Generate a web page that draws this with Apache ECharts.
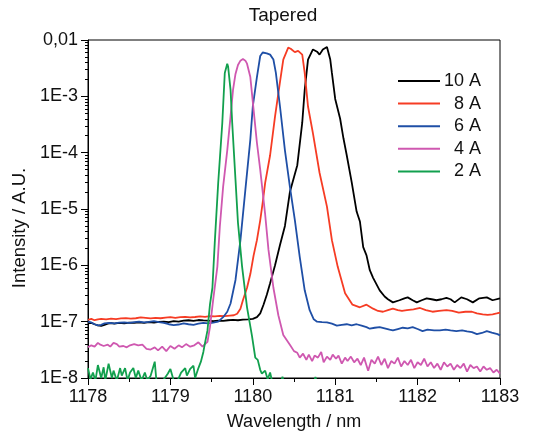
<!DOCTYPE html>
<html><head><meta charset="utf-8">
<script src="https://cdn.jsdelivr.net/npm/echarts@6/dist/echarts.min.js"></script>
<style>html,body{margin:0;padding:0;background:#fff}#c{width:534px;height:438px}</style>
</head><body><div id="c"></div>
<script>
// ---- data (wavelength in nm, intensity in A.U.) ----
const seriesNames = ['10 A', '8 A', '6 A', '4 A', '2 A'];
const xTicks = [1178, 1179, 1180, 1181, 1182, 1183];
const yTickLabels = {'-2': '0,01', '-3': '1E-3', '-4': '1E-4', '-5': '1E-5', '-6': '1E-6', '-7': '1E-7', '-8': '1E-8'};

const wl10 = [1178.00,1178.04,1178.08,1178.12,1178.16,1178.20,1178.24,1178.28,1178.32,1178.38,1178.44,1178.50,1178.56,1178.62,1178.68,1178.74,1178.80,1178.86,1178.92,1178.98,1179.04,1179.10,1179.16,1179.22,1179.28,1179.34,1179.40,1179.46,1179.52,1179.58,1179.64,1179.70,1179.76,1179.82,1179.88,1179.94,1180.00,1180.05,1180.09,1180.13,1180.17,1180.21,1180.27,1180.33,1180.39,1180.45,1180.54,1180.60,1180.63,1180.67,1180.73,1180.78,1180.81,1180.85,1180.90,1180.94,1180.96,1181.00,1181.06,1181.10,1181.14,1181.20,1181.26,1181.30,1181.34,1181.38,1181.42,1181.46,1181.54,1181.60,1181.64,1181.70,1181.78,1181.84,1181.88,1181.94,1181.99,1182.05,1182.11,1182.17,1182.23,1182.29,1182.35,1182.40,1182.45,1182.53,1182.60,1182.67,1182.75,1182.84,1182.91,1183.00];
const int10 = [0.93e-7,0.95e-7,0.9e-7,0.86e-7,0.84e-7,0.88e-7,0.92e-7,0.94e-7,0.92e-7,0.95e-7,0.93e-7,0.96e-7,0.95e-7,0.97e-7,0.95e-7,0.98e-7,0.96e-7,0.99e-7,1.0e-7,0.98e-7,1.02e-7,1.0e-7,1.04e-7,1.06e-7,1.03e-7,1.07e-7,1.05e-7,1.04e-7,1.02e-7,1.04e-7,1.03e-7,1.06e-7,1.08e-7,1.06e-7,1.09e-7,1.1e-7,1.12e-7,1.2e-7,1.4e-7,2e-7,3e-7,4.8e-7,1e-6,2.3e-6,5e-6,2e-5,6e-5,3.4e-4,1.3e-3,4.5e-3,6.8e-3,6.2e-3,5.5e-3,6.8e-3,7.5e-3,4.5e-3,2.6e-3,9e-4,4e-4,1.8e-4,9e-5,3e-5,9e-6,6e-6,2.1e-6,1.5e-6,8.2e-7,6e-7,3.6e-7,2.8e-7,2.5e-7,2.2e-7,2.4e-7,2.6e-7,2.7e-7,2.4e-7,2.2e-7,2.4e-7,2.6e-7,2.5e-7,2.4e-7,2.5e-7,2.65e-7,2.5e-7,2.2e-7,2.7e-7,2.5e-7,2.2e-7,2.6e-7,2.7e-7,2.4e-7,2.6e-7];

const wl8 = [1178.00,1178.04,1178.08,1178.12,1178.16,1178.22,1178.28,1178.34,1178.40,1178.46,1178.52,1178.58,1178.64,1178.70,1178.76,1178.82,1178.88,1178.94,1179.00,1179.06,1179.12,1179.18,1179.24,1179.30,1179.36,1179.42,1179.48,1179.54,1179.60,1179.66,1179.72,1179.77,1179.81,1179.85,1179.88,1179.93,1179.97,1180.01,1180.05,1180.09,1180.12,1180.15,1180.21,1180.27,1180.33,1180.37,1180.43,1180.46,1180.48,1180.51,1180.55,1180.60,1180.63,1180.67,1180.73,1180.81,1180.90,1180.96,1181.03,1181.12,1181.21,1181.30,1181.38,1181.46,1181.52,1181.58,1181.64,1181.70,1181.76,1181.81,1181.87,1181.95,1182.03,1182.10,1182.18,1182.26,1182.35,1182.42,1182.50,1182.58,1182.66,1182.72,1182.79,1182.85,1182.91,1182.96,1183.00];
const int8 = [1.08e-7,1.12e-7,1.06e-7,1.1e-7,1.12e-7,1.1e-7,1.13e-7,1.11e-7,1.14e-7,1.16e-7,1.13e-7,1.15e-7,1.19e-7,1.17e-7,1.14e-7,1.17e-7,1.15e-7,1.18e-7,1.2e-7,1.17e-7,1.2e-7,1.22e-7,1.19e-7,1.21e-7,1.24e-7,1.22e-7,1.25e-7,1.24e-7,1.27e-7,1.25e-7,1.28e-7,1.3e-7,1.38e-7,1.7e-7,2.4e-7,4e-7,7e-7,1.5e-6,2.8e-6,6.3e-6,1.3e-5,2.9e-5,9e-5,4.4e-4,1.8e-3,4.5e-3,7.3e-3,7.0e-3,6.5e-3,6.1e-3,6.4e-3,5.5e-3,2.6e-3,6.6e-4,2.2e-4,4.4e-5,1.1e-5,2.8e-6,9.5e-7,3.2e-7,2e-7,1.8e-7,2e-7,1.7e-7,1.55e-7,1.5e-7,1.6e-7,1.7e-7,1.6e-7,1.55e-7,1.6e-7,1.65e-7,1.75e-7,1.6e-7,1.5e-7,1.55e-7,1.6e-7,1.55e-7,1.45e-7,1.5e-7,1.5e-7,1.4e-7,1.35e-7,1.32e-7,1.35e-7,1.4e-7,1.45e-7];

const wl6 = [1178.00,1178.04,1178.08,1178.12,1178.16,1178.20,1178.26,1178.32,1178.38,1178.44,1178.50,1178.56,1178.62,1178.68,1178.74,1178.80,1178.86,1178.92,1178.98,1179.04,1179.10,1179.16,1179.22,1179.28,1179.34,1179.40,1179.46,1179.52,1179.58,1179.64,1179.69,1179.73,1179.79,1179.85,1179.91,1179.97,1180.00,1180.05,1180.09,1180.12,1180.17,1180.21,1180.25,1180.28,1180.30,1180.33,1180.39,1180.45,1180.51,1180.57,1180.63,1180.69,1180.74,1180.78,1180.84,1180.90,1180.96,1181.02,1181.08,1181.14,1181.20,1181.26,1181.32,1181.38,1181.42,1181.48,1181.54,1181.60,1181.66,1181.70,1181.76,1181.82,1181.88,1181.94,1182.00,1182.06,1182.12,1182.20,1182.27,1182.34,1182.40,1182.47,1182.54,1182.60,1182.66,1182.72,1182.78,1182.84,1182.90,1182.97,1183.00];
const int6 = [1.0e-7,0.97e-7,0.9e-7,0.86e-7,0.88e-7,0.93e-7,0.95e-7,0.93e-7,0.96e-7,0.97e-7,0.95e-7,0.98e-7,1.0e-7,0.97e-7,0.99e-7,1.02e-7,0.98e-7,0.95e-7,0.9e-7,0.87e-7,0.89e-7,0.93e-7,0.9e-7,0.88e-7,0.92e-7,0.95e-7,0.93e-7,0.96e-7,1.0e-7,1.2e-7,1.5e-7,2.1e-7,5.5e-7,2.8e-6,2.2e-5,1.7e-4,6.6e-4,2.2e-3,5.2e-3,6.0e-3,5.8e-3,5.5e-3,4.5e-3,2.6e-3,1.5e-3,6.6e-4,1.1e-4,2.5e-5,6.4e-6,1.4e-6,3.6e-7,1.6e-7,1.1e-7,1.0e-7,0.98e-7,0.97e-7,0.92e-7,0.85e-7,0.88e-7,0.9e-7,0.86e-7,0.9e-7,0.85e-7,0.8e-7,0.75e-7,0.78e-7,0.8e-7,0.76e-7,0.72e-7,0.7e-7,0.74e-7,0.78e-7,0.76e-7,0.8e-7,0.74e-7,0.68e-7,0.72e-7,0.7e-7,0.7e-7,0.72e-7,0.7e-7,0.68e-7,0.7e-7,0.67e-7,0.65e-7,0.6e-7,0.63e-7,0.68e-7,0.64e-7,0.6e-7,0.57e-7];

const wl4 = [1178.00,1178.04,1178.08,1178.12,1178.15,1178.19,1178.24,1178.27,1178.31,1178.35,1178.38,1178.43,1178.47,1178.51,1178.56,1178.61,1178.66,1178.71,1178.76,1178.81,1178.85,1178.90,1178.95,1179.00,1179.05,1179.10,1179.14,1179.19,1179.24,1179.29,1179.34,1179.39,1179.42,1179.45,1179.48,1179.52,1179.57,1179.60,1179.64,1179.69,1179.73,1179.76,1179.79,1179.82,1179.85,1179.88,1179.91,1179.93,1179.97,1180.00,1180.05,1180.09,1180.15,1180.19,1180.25,1180.31,1180.37,1180.45,1180.50,1180.54,1180.57,1180.61,1180.65,1180.68,1180.72,1180.75,1180.79,1180.83,1180.86,1180.90,1180.94,1180.97,1181.01,1181.04,1181.08,1181.12,1181.15,1181.19,1181.23,1181.27,1181.31,1181.35,1181.40,1181.44,1181.48,1181.52,1181.56,1181.60,1181.64,1181.68,1181.72,1181.76,1181.80,1181.84,1181.88,1181.92,1181.96,1182.00,1182.04,1182.08,1182.12,1182.16,1182.20,1182.24,1182.28,1182.32,1182.36,1182.40,1182.44,1182.48,1182.52,1182.56,1182.60,1182.64,1182.68,1182.72,1182.76,1182.80,1182.84,1182.88,1182.92,1182.96,1183.00];
const int4 = [3.5e-8,3.8e-8,3.6e-8,4.2e-8,3.9e-8,3.7e-8,3.9e-8,3.6e-8,4.2e-8,4.0e-8,3.6e-8,3.7e-8,3.5e-8,3.8e-8,4.0e-8,3.8e-8,3.9e-8,3.3e-8,3.2e-8,3.5e-8,3.1e-8,3.6e-8,3.0e-8,3.7e-8,3.3e-8,3.8e-8,3.5e-8,4.0e-8,3.6e-8,3.8e-8,4.3e-8,3.6e-8,4.0e-8,4.4e-8,8e-8,2.5e-7,9.5e-7,4.9e-6,2.5e-5,1.1e-4,4.4e-4,1.3e-3,2.5e-3,3.6e-3,4.3e-3,4.6e-3,4.3e-3,3.8e-3,2.2e-3,8e-4,1.5e-4,5e-5,8e-6,1.9e-6,4e-7,1.3e-7,5.8e-8,3.9e-8,3.0e-8,2.8e-8,2.3e-8,2.7e-8,2.1e-8,2.6e-8,2.0e-8,2.5e-8,2.3e-8,2.9e-8,1.9e-8,2.4e-8,2.1e-8,2.6e-8,2.2e-8,2.5e-8,1.8e-8,2.3e-8,2.0e-8,2.4e-8,1.9e-8,2.2e-8,1.7e-8,2.3e-8,1.35e-8,2.1e-8,1.8e-8,2.4e-8,1.7e-8,2.2e-8,1.5e-8,2.0e-8,1.8e-8,2.3e-8,1.6e-8,2.0e-8,1.7e-8,2.1e-8,1.5e-8,1.9e-8,1.7e-8,2.2e-8,1.6e-8,1.9e-8,1.5e-8,1.8e-8,1.4e-8,1.9e-8,1.6e-8,1.8e-8,1.4e-8,1.7e-8,1.5e-8,1.8e-8,1.3e-8,1.7e-8,1.5e-8,1.6e-8,1.3e-8,1.6e-8,1.4e-8,1.5e-8,1.25e-8,1.4e-8,1.2e-8];

const wl2 = [1178.00,1178.03,1178.06,1178.09,1178.12,1178.16,1178.19,1178.21,1178.25,1178.29,1178.31,1178.35,1178.39,1178.41,1178.45,1178.48,1178.51,1178.55,1178.58,1178.61,1178.65,1178.69,1178.72,1178.76,1178.81,1178.83,1178.87,1178.91,1178.97,1179.00,1179.04,1179.08,1179.13,1179.18,1179.20,1179.24,1179.28,1179.30,1179.34,1179.37,1179.40,1179.42,1179.45,1179.48,1179.51,1179.54,1179.58,1179.63,1179.66,1179.69,1179.70,1179.73,1179.75,1179.79,1179.82,1179.87,1179.93,1179.99,1180.03,1180.06,1180.09,1180.11,1180.15,1180.18,1180.21,1180.24,1180.34,1180.36,1180.38,1180.74,1180.76,1180.78,1183.00];
const int2 = [1.5e-8,0.95e-8,1.25e-8,0.9e-8,1.7e-8,1.0e-8,1.55e-8,0.9e-8,1.8e-8,1.0e-8,1.35e-8,0.9e-8,1.5e-8,1.1e-8,1.5e-8,0.9e-8,1.25e-8,1.5e-8,1.0e-8,1.35e-8,0.9e-8,1.25e-8,0.9e-8,1.1e-8,1.95e-8,0.9e-8,0.85e-8,0.9e-8,1.2e-8,1.45e-8,0.9e-8,0.85e-8,1.25e-8,1.5e-8,1.1e-8,1.45e-8,1.65e-8,1.0e-8,1.5e-8,1.95e-8,2.9e-8,4.2e-8,7e-8,2e-7,4e-7,2.8e-6,2.9e-5,3.4e-4,2.6e-3,3.8e-3,3.4e-3,1.3e-3,3.4e-4,3.3e-5,5.7e-6,9.5e-7,1.8e-7,5.6e-8,2.3e-8,2.1e-8,1.4e-8,1.2e-8,1.35e-8,0.95e-8,1.25e-8,0.8e-8,0.8e-8,1.05e-8,0.8e-8,0.8e-8,1.04e-8,0.8e-8,0.8e-8];

const colors = ['#000000', '#f63c24', '#1f4fa6', '#cf58b0', '#12a04e'];
const wls = [wl10, wl8, wl6, wl4, wl2];
const ints = [int10, int8, int6, int4, int2];

const FONT = 'Liberation Sans, Arial, sans-serif';
const chart = echarts.init(document.getElementById('c'), null, {renderer: 'canvas'});
chart.setOption({
  animation: false,
  backgroundColor: '#ffffff',
  title: {text: 'Tapered', left: 278, top: 1, textAlign: 'center',
    textStyle: {fontFamily: FONT, fontSize: 19, fontWeight: 'normal', color: '#111'}},
  grid: {left: 88, right: 34, top: 40, bottom: 60, show: true, borderColor: '#000', borderWidth: 1, backgroundColor: 'transparent'},
  legend: {
    orient: 'vertical', left: 393, top: 67, itemWidth: 42, itemHeight: 2, itemGap: 4.6,
    icon: 'rect',
    data: seriesNames,
    formatter: function (n) { return '{a|' + n + '}'; },
    textStyle: {fontFamily: FONT, fontSize: 18, color: '#111', lineHeight: 18,
      rich: {a: {width: 36, align: 'right', fontFamily: FONT, fontSize: 18, color: '#111', lineHeight: 18}}}
  },
  xAxis: {
    type: 'value', min: xTicks[0], max: xTicks[xTicks.length - 1], interval: 1,
    name: 'Wavelength / nm', nameLocation: 'middle', nameGap: 35,
    nameTextStyle: {fontFamily: FONT, fontSize: 18, color: '#111'},
    axisLine: {show: true, onZero: false, lineStyle: {color: '#000', width: 1}},
    axisTick: {show: true, inside: false, length: 7, lineStyle: {color: '#000'}},
    minorTick: {show: true, splitNumber: 2, length: 4, lineStyle: {color: '#000'}},
    splitLine: {show: false},
    axisLabel: {margin: 10, fontFamily: FONT, fontSize: 18, color: '#111',
      formatter: function (v) { return String(Math.round(v)); }}
  },
  yAxis: {
    type: 'log', logBase: 10, min: 1e-8, max: 1e-2,
    name: 'Intensity / A.U.', nameLocation: 'middle', nameGap: 58,
    nameTextStyle: {fontFamily: FONT, fontSize: 18.5, color: '#111', padding: [0, 38, 0, 0]},
    axisLine: {show: true, lineStyle: {color: '#000', width: 1}},
    axisTick: {show: true, inside: false, length: 7, lineStyle: {color: '#000'}},
    minorTick: {show: true, splitNumber: 9, length: 3, lineStyle: {color: '#000'}},
    splitLine: {show: false},
    axisLabel: {margin: 10, fontFamily: FONT, fontSize: 18, color: '#111',
      formatter: function (v) { return yTickLabels[String(Math.round(Math.log10(v)))] || ''; }}
  },
  series: seriesNames.map(function (name, k) {
    return {
      name: name, type: 'line', symbol: 'none', clip: true,
      data: wls[k].map(function (w, i) { return [w, ints[k][i]]; }),
      lineStyle: {color: colors[k], width: 1.8}, itemStyle: {color: colors[k]},
      z: 2 + k
    };
  })
});
</script></body></html>
